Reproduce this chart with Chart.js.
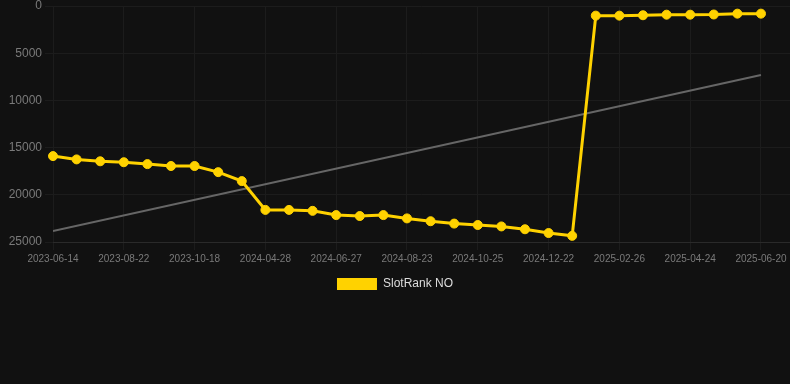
<!DOCTYPE html>
<html>
<head>
<meta charset="utf-8">
<script src="https://cdn.jsdelivr.net/npm/chart.js@4/dist/chart.umd.min.js"></script>
<style>
  html, body { margin: 0; padding: 0; background: #111111; }
  #wrap { width: 790px; height: 300px; }
</style>
</head>
<body>
<div id="wrap"><canvas id="rankChart"></canvas></div>
<script>
  // tick labels, shown every third sample
  const tickDates = [
    "2023-06-14", "2023-08-22", "2023-10-18", "2024-04-28", "2024-06-27",
    "2024-08-23", "2024-10-25", "2024-12-22", "2025-02-26", "2025-04-24",
    "2025-06-20",
  ];

  // rank per sample (lower is better)
  const rankValues = [
    15900, 16250, 16450, 16550, 16750, 16950, 16950, 17600, 18550, 21600,
    21600, 21700, 22150, 22250, 22150, 22500, 22800, 23050, 23200, 23350,
    23650, 24050, 24350, 1020, 1020, 980, 920, 920, 900, 810,
    810,
  ];

  // trend line endpoints (sample index, rank)
  const trendIndex = [0, 30];
  const trendRank = [23850, 7300];

  const yTicks = [0, 5000, 10000, 15000, 20000, 25000];

  const gold = "#ffd200";
  const font = "Arial, 'Liberation Sans', Helvetica, sans-serif";

  new Chart(document.getElementById("rankChart"), {
    type: "line",
    data: {
      datasets: [
        {
          label: "SlotRank NO",
          data: rankValues.map(function (v, i) {
            return { x: i, y: v };
          }),
          borderColor: gold,
          backgroundColor: gold,
          borderWidth: 3,
          pointRadius: 4.5,
          pointBorderWidth: 1,
          pointBackgroundColor: gold,
          pointBorderColor: gold,
          tension: 0,
          clip: false,
          order: 1,
        },
        {
          label: "trend",
          data: trendIndex.map(function (x, i) {
            return { x: x, y: trendRank[i] };
          }),
          borderColor: "#666666",
          borderWidth: 2,
          pointRadius: 0,
          fill: false,
          order: 2,
        },
      ],
    },
    options: {
      responsive: true,
      maintainAspectRatio: false,
      animation: false,
      layout: { autoPadding: false },
      scales: {
        x: {
          type: "linear",
          min: 0,
          max: 31.23,
          grid: { color: "#1c1c1c", tickLength: 8 },
          border: { color: "#2a2a2a" },
          afterFit: function (scale) {
            scale.paddingRight = 0;
          },
          ticks: {
            stepSize: 3,
            includeBounds: false,
            autoSkip: false,
            maxRotation: 0,
            color: "#7a7a7a",
            font: { family: font, size: 10 },
            callback: function (value) {
              return tickDates[value / 3];
            },
          },
        },
        y: {
          reverse: true,
          min: yTicks[0],
          max: yTicks[yTicks.length - 1],
          grid: { color: "#1c1c1c", tickLength: 8 },
          border: { display: false },
          afterFit: function (scale) {
            scale.width = 53;
            scale.paddingTop = 6;
          },
          ticks: {
            stepSize: 5000,
            color: "#7a7a7a",
            font: { family: font, size: 12 },
            callback: function (value) {
              return String(value);
            },
          },
        },
      },
      plugins: {
        tooltip: { enabled: false },
        legend: {
          position: "bottom",
          labels: {
            color: "#dddddd",
            boxWidth: 40,
            font: { family: font, size: 12 },
            filter: function (item) {
              return item.datasetIndex === 0;
            },
            generateLabels: function (chart) {
              const items = Chart.defaults.plugins.legend.labels.generateLabels(chart);
              items.forEach(function (item) {
                item.lineWidth = 0;
              });
              return items;
            },
          },
        },
      },
    },
  });
</script>
</body>
</html>
